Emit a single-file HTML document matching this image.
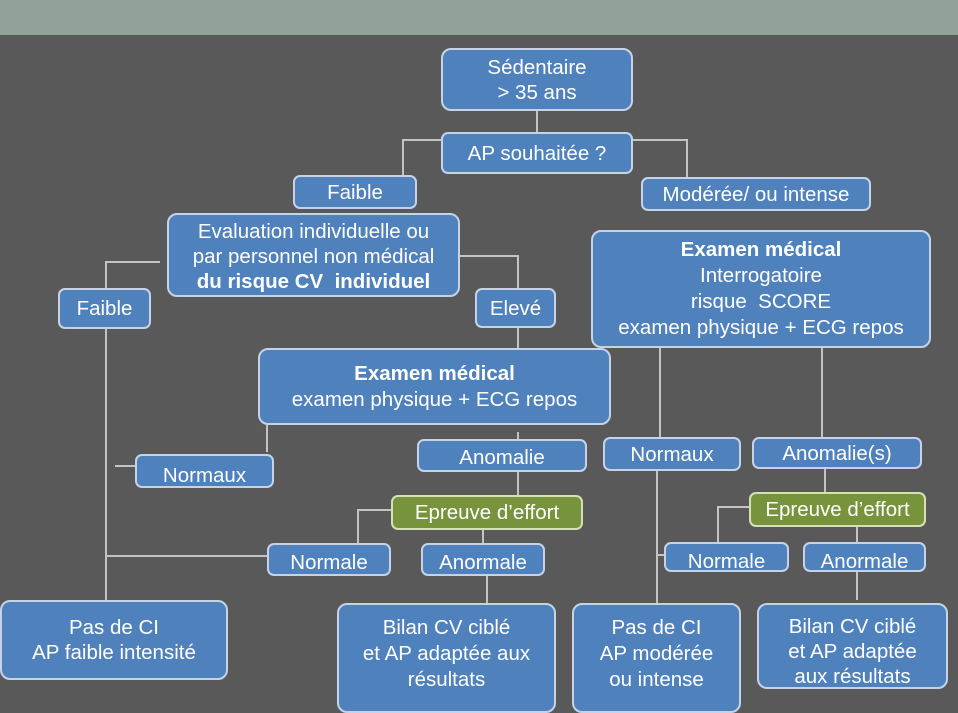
<!DOCTYPE html>
<html><head><meta charset="utf-8"><style>
body{margin:0;width:958px;height:710px;overflow:hidden;background:#595959;font-family:"Liberation Sans",sans-serif;}
#hdr{position:absolute;left:0;top:0;width:958px;height:35px;background:#93a298;}
.b{position:absolute;box-sizing:border-box;background:#4f81bd;border:2px solid #c6d3e6;border-radius:10px;color:#fff;font-size:20.5px;line-height:25px;text-align:center;display:flex;flex-direction:column;justify-content:center;align-items:center;overflow:hidden;white-space:nowrap;}
.g{background:#77933c;border-color:#d4e0b8;border-radius:7px;}
.s{border-radius:7px;}
svg{position:absolute;left:0;top:0;}
</style></head><body>
<div id="hdr"></div>
<svg width="958" height="710"><g stroke="#c4c4c4" stroke-width="2" fill="none">
<path d="M537 111V132"/>
<path d="M441 140H403V175"/>
<path d="M633 140H687V177"/>
<path d="M160 262H106V288"/>
<path d="M106 329V600"/>
<path d="M460 256H518V288"/>
<path d="M518 328V348"/>
<path d="M267 425V452"/>
<path d="M115 466H135"/>
<path d="M518 432V440"/>
<path d="M518 472V495"/>
<path d="M391 510H358V543"/>
<path d="M483 530V543"/>
<path d="M106 556H268"/>
<path d="M487 576V603"/>
<path d="M660 348V437"/>
<path d="M822 348V437"/>
<path d="M657 471V603"/>
<path d="M657 555H664"/>
<path d="M825 469V492"/>
<path d="M749 507H718V542"/>
<path d="M857 527V542"/>
<path d="M857 572V600"/>
</g></svg>
<div class="b" style="left:441px;top:48px;width:192px;height:63px;">Sédentaire<br>&gt; 35 ans</div>
<div class="b s" style="left:441px;top:132px;width:192px;height:42px;">AP souhaitée ?</div>
<div class="b s" style="left:293px;top:175px;width:124px;height:34px;">Faible</div>
<div class="b s" style="left:641px;top:177px;width:230px;height:34px;">Modérée/ ou intense</div>
<div class="b" style="left:167px;top:213px;width:293px;height:84px;padding-top:2px;">Evaluation individuelle ou<br>par personnel non médical<br><b>du risque CV &nbsp;individuel</b></div>
<div class="b s" style="left:58px;top:288px;width:93px;height:41px;">Faible</div>
<div class="b s" style="left:475px;top:288px;width:81px;height:40px;">Elevé</div>
<div class="b" style="left:591px;top:230px;width:340px;height:118px;line-height:26px;"><b>Examen médical</b>Interrogatoire<br>risque &nbsp;SCORE<br>examen physique + ECG repos</div>
<div class="b" style="left:258px;top:348px;width:353px;height:77px;line-height:26px;"><b>Examen médical</b>examen physique + ECG repos</div>
<div class="b s" style="left:135px;top:454px;width:139px;height:34px;padding-top:8px;">Normaux</div>
<div class="b s" style="left:417px;top:439px;width:170px;height:33px;padding-top:4px;">Anomalie</div>
<div class="b s" style="left:603px;top:437px;width:138px;height:34px;">Normaux</div>
<div class="b s" style="left:752px;top:437px;width:170px;height:32px;">Anomalie(s)</div>
<div class="b g" style="left:391px;top:495px;width:192px;height:35px;">Epreuve d’effort</div>
<div class="b g" style="left:749px;top:492px;width:177px;height:35px;">Epreuve d’effort</div>
<div class="b s" style="left:267px;top:543px;width:124px;height:33px;padding-top:6px;">Normale</div>
<div class="b s" style="left:421px;top:543px;width:124px;height:33px;padding-top:6px;">Anormale</div>
<div class="b s" style="left:664px;top:542px;width:125px;height:30px;padding-top:8px;">Normale</div>
<div class="b s" style="left:803px;top:542px;width:123px;height:30px;padding-top:8px;">Anormale</div>
<div class="b" style="left:0px;top:600px;width:228px;height:80px;">Pas de CI<br>AP faible intensité</div>
<div class="b" style="left:337px;top:603px;width:219px;height:110px;padding-bottom:8px;line-height:26px;">Bilan CV ciblé<br>et AP adaptée aux<br>résultats</div>
<div class="b" style="left:572px;top:603px;width:169px;height:110px;padding-bottom:8px;line-height:26px;">Pas de CI<br>AP modérée<br>ou intense</div>
<div class="b" style="left:757px;top:603px;width:191px;height:86px;padding-top:10px;">Bilan CV ciblé<br>et AP adaptée<br>aux résultats</div>
</body></html>
